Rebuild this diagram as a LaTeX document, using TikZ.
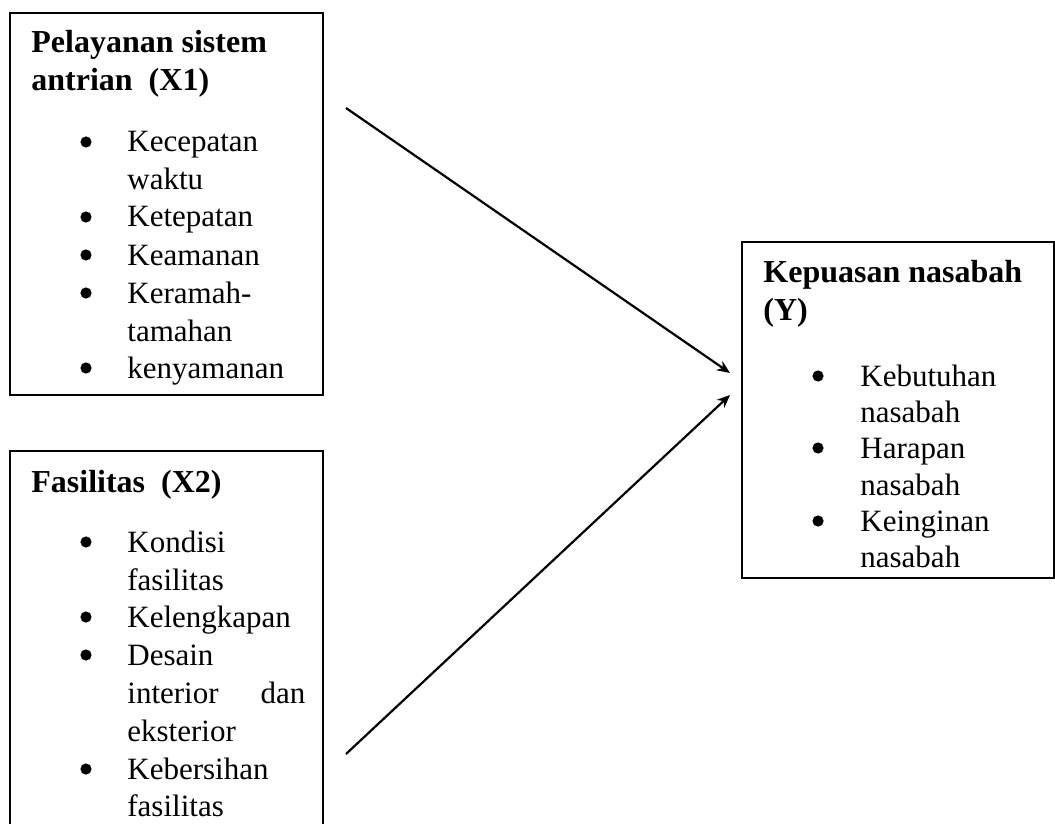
\documentclass[tikz,border=0pt]{standalone}
\usepackage{fontspec}
\setmainfont{Liberation Serif}
\usetikzlibrary{arrows.meta}

\begin{document}
\begin{tikzpicture}[x=0.5pt, y=-0.5pt, font=\fontsize{15.5}{19}\selectfont,
          box/.style={draw, line width=0.9pt},
          judul/.style={anchor=base west, inner sep=0pt, font=\fontsize{16}{19}\selectfont\bfseries},
          isi/.style={anchor=base west, inner sep=0pt},
          bul/.style={circle, fill, inner sep=0pt, minimum size=5.6pt},
          panah/.style={line width=1.1pt, -{Stealth[length=6.5pt, width=5.5pt]}}]
          \useasboundingbox (0,0) rectangle (1055,824);
          \clip (0,0) rectangle (1055,824);

          % kotak X1
          \draw[box] (10,13) rectangle (323,395);
          \node[judul] (t1a) at (31,53) {Pelayanan sistem};
          \node[judul] (t1b) at (31,91) {antrian\ \ (X1)};
          \node[bul] (b11) at (86,142) {};
          \node[isi] (i11) at (127,152) {Kecepatan};
          \node[isi] (i12) at (127,190) {waktu};
          \node[bul] (b12) at (86,217) {};
          \node[isi] (i13) at (127,227) {Ketepatan};
          \node[bul] (b13) at (86,255) {};
          \node[isi] (i14) at (127,265) {Keamanan};
          \node[bul] (b14) at (86,293) {};
          \node[isi] (i15) at (127,303) {Keramah-};
          \node[isi] (i16) at (127,341) {tamahan};
          \node[bul] (b15) at (86,368) {};
          \node[isi] (i17) at (127,378) {kenyamanan};

          % kotak X2
          \draw[box] (10,451) rectangle (323,840);
          \node[judul] (t2a) at (31,492) {Fasilitas\ \ (X2)};
          \node[bul] (b21) at (86,542) {};
          \node[isi] (i21) at (127,552) {Kondisi};
          \node[isi] (i22) at (127,590) {fasilitas};
          \node[bul] (b22) at (86,617) {};
          \node[isi] (i23) at (127,627) {Kelengkapan};
          \node[bul] (b23) at (86,655) {};
          \node[isi] (i24) at (127,665) {Desain};
          \node[isi] (i25) at (127,703) {\makebox[89pt][s]{interior dan}};
          \node[isi] (i26) at (127,741) {eksterior};
          \node[bul] (b24) at (86,769) {};
          \node[isi] (i27) at (127,779) {Kebersihan};
          \node[isi] (i28) at (127,816) {fasilitas};

          % kotak Y
          \draw[box] (742,242) rectangle (1054,578);
          \node[judul] (t3a) at (763,282) {Kepuasan nasabah};
          \node[judul] (t3b) at (763,320) {(Y)};
          \node[bul] (b31) at (818,376) {};
          \node[isi] (i31) at (860,386) {Kebutuhan};
          \node[isi] (i32) at (860,422) {nasabah};
          \node[bul] (b32) at (818,448) {};
          \node[isi] (i33) at (860,458) {Harapan};
          \node[isi] (i34) at (860,495) {nasabah};
          \node[bul] (b33) at (818,521) {};
          \node[isi] (i35) at (860,531) {Keinginan};
          \node[isi] (i36) at (860,567) {nasabah};

          % panah
          \coordinate (p1) at (346,108);
          \coordinate (q1) at (730,373);
          \coordinate (p2) at (346,754);
          \coordinate (q2) at (730,395);
          \draw[panah] (p1) -- (q1);
          \draw[panah] (p2) -- (q2);
          \end{tikzpicture}
\end{document}
